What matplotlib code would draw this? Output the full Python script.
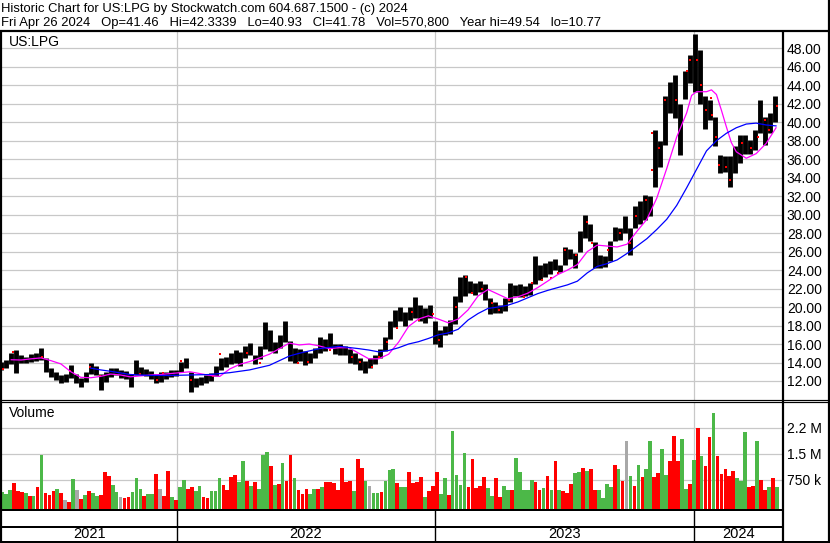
import matplotlib
matplotlib.use('Agg')
import matplotlib.pyplot as plt
import matplotlib.dates as mdates
from matplotlib.lines import Line2D
import numpy as np
import pandas as pd

plt.rcParams['font.family'] = ['Liberation Sans', 'DejaVu Sans']

# ---------------- data ----------------
title_line = "Historic Chart for US:LPG by Stockwatch.com 604.687.1500 - (c) 2024"
info_fields = ["Fri Apr 26 2024", "Op=41.46", "Hi=42.3339", "Lo=40.93", "Cl=41.78",
               "Vol=570,800", "Year hi=49.54", "lo=10.77"]
symbol = "US:LPG"
volume_title = "Volume"

week_high = [14.1, 14.3, 15.0, 15.4, 14.8, 14.6, 14.9, 15.0, 15.6, 14.5,
             13.4, 13.0, 12.6, 12.8, 13.7, 12.8, 12.3, 13.0, 14.0, 13.6,
             12.8, 13.0, 13.4, 13.4, 13.2, 13.1, 12.8, 14.3, 13.5, 13.3,
             13.1, 12.8, 13.0, 13.0, 13.2, 13.2, 14.1, 14.5, 13.0, 12.3,
             12.4, 12.7, 12.9, 13.6, 14.5, 14.6, 15.0, 15.4, 15.1, 15.8,
             16.1, 14.8, 15.8, 18.4, 17.5, 16.2, 17.0, 18.5, 16.3, 15.6,
             15.5, 15.2, 15.0, 15.6, 16.8, 16.5, 17.15, 16.0, 16.0, 15.8,
             15.5, 15.0, 14.5, 14.2, 14.5, 14.8, 15.5, 16.8, 18.5, 19.7,
             20.0, 19.5, 20.0, 21.1, 20.2, 19.9, 20.2, 18.5, 17.5, 18.0,
             18.6, 21.2, 23.2, 23.5, 22.8, 22.6, 22.8, 22.5, 21.0, 20.5,
             20.2, 21.0, 22.6, 22.4, 22.5, 22.3, 22.6, 25.5, 24.6, 24.8,
             25.0, 25.2, 24.5, 26.5, 26.3, 25.8, 28.2, 30.0, 29.0, 27.0,
             25.6, 25.5, 27.2, 28.7, 28.6, 29.8, 28.5, 30.9, 31.5, 32.1,
             32.0, 39.2, 38.0, 42.8, 44.4, 45.1, 42.0, 45.5, 47.3, 49.54,
             47.8, 42.8, 42.4, 40.6, 36.5, 36.3, 36.3, 37.4, 38.6, 38.6,
             38.1, 39.2, 42.4, 40.6, 41.0, 42.8]
week_low = [13.2, 13.4, 13.8, 12.9, 14.0, 13.9, 14.1, 14.2, 14.3, 13.0,
            12.4, 12.1, 11.8, 11.9, 12.3, 11.8, 11.4, 11.9, 12.8, 12.6,
            11.0, 11.9, 12.4, 12.6, 12.3, 12.2, 11.4, 12.6, 12.6, 12.5,
            12.2, 11.8, 11.9, 12.2, 12.4, 12.5, 13.0, 13.4, 10.8, 11.4,
            11.6, 11.8, 12.0, 12.5, 13.2, 13.5, 13.8, 14.0, 13.6, 14.5,
            14.8, 13.8, 14.4, 15.5, 15.2, 15.0, 15.6, 16.2, 14.2, 14.0,
            14.2, 13.7, 14.0, 14.5, 15.0, 15.2, 15.6, 14.9, 14.8, 14.8,
            14.0, 13.8, 13.2, 12.9, 13.4, 13.8, 14.5, 15.2, 16.5, 17.8,
            18.5, 18.0, 18.6, 18.8, 18.5, 18.3, 18.8, 16.0, 15.7, 17.0,
            17.1, 18.2, 20.5, 21.2, 21.5, 21.3, 21.6, 20.8, 19.3, 19.4,
            19.4, 19.6, 20.5, 21.2, 21.1, 21.2, 21.3, 22.5, 22.9, 23.3,
            23.6, 24.0, 23.8, 24.5, 25.2, 24.2, 26.0, 27.5, 27.2, 24.2,
            24.2, 24.3, 25.0, 27.1, 27.3, 28.0, 25.6, 28.5, 29.0, 29.4,
            29.8, 33.0, 35.2, 37.5, 41.0, 40.5, 36.4, 42.5, 44.2, 43.3,
            42.0, 39.3, 40.2, 37.4, 34.5, 34.6, 33.0, 34.5, 35.6, 36.6,
            36.6, 37.0, 38.8, 37.5, 38.8, 40.0]

# red tick marks: day offset from 2021-04-30 and price
red_mark_day = [1, 15, 56, 96, 124, 138, 194, 218, 227, 253, 267, 297, 307, 345, 363,
                417, 432, 462, 493, 504, 521, 532, 543, 557, 578, 588, 607, 616, 640,
                654, 663, 676, 690, 701, 715, 736, 747, 761, 774, 783, 794, 809, 825,
                832, 854, 871, 885, 894, 908, 916, 916, 926, 935, 950, 966, 970, 980,
                985, 992, 999, 1001, 1006, 1011, 1020, 1026, 1043, 1056, 1065, 1075,
                1081, 1092]
red_mark_price = [13.3, 15.1, 14.6, 13.1, 13.5, 12.5, 12.8, 12.1, 12.9, 14.2, 12.1, 12.5,
                  14.9, 15.0, 13.9, 13.9, 14.1, 15.35, 14.6, 14.1, 13.55, 14.6, 16.25, 17.7,
                  19.5, 18.6, 19.3, 16.4, 20.0, 23.3, 21.5, 22.0, 20.4, 19.7, 20.8, 21.1,
                  22.6, 22.9, 23.1, 23.65, 26.2, 25.6, 29.2, 26.9, 26.2, 28.0, 26.9, 29.8,
                  31.6, 38.8, 34.8, 37.2, 42.4, 42.4, 45.5, 46.7, 46.7, 44.0, 41.3, 42.6,
                  40.8, 38.4, 35.4, 35.2, 33.7, 37.7, 37.2, 38.4, 40.2, 39.2, 41.7]

ma_fast_week = [2, 4, 6, 8, 10, 12, 14, 16, 18, 20, 22, 24, 26, 28, 30, 32, 34, 36, 38, 40,
                42, 44, 46, 48, 50, 52, 54, 56, 58, 60, 62, 64, 66, 68, 70, 72, 74, 76, 78, 80,
                82, 84, 86, 88, 90, 92, 94, 96, 98, 100, 102, 104, 106, 108, 110, 112, 114, 116,
                118, 120, 122, 124, 126, 128, 130, 132, 134, 136, 138, 139, 140, 142, 143, 144,
                145, 146, 147, 148, 150, 152, 154, 156]
ma_fast = [14.3, 14.27, 14.4, 14.5, 14.2, 13.85, 13.0, 12.4, 12.35, 12.5, 12.75, 12.65, 12.45,
           12.55, 12.65, 12.7, 12.8, 12.9, 13.0, 12.8, 12.6, 12.5, 13.3, 13.8, 14.1, 14.5, 14.9,
           15.5, 16.1, 15.9, 16.0, 15.8, 15.5, 15.6, 15.6, 15.0, 14.4, 14.4, 14.9, 16.2, 17.9,
           18.7, 19.05, 18.7, 18.3, 18.7, 19.7, 21.2, 21.9, 21.4, 20.9, 21.1, 21.5, 22.1, 22.8,
           23.5, 24.0, 24.6, 26.0, 26.7, 26.6, 26.5, 26.8, 28.2, 29.5, 31.8, 35.0, 38.4, 41.0,
           42.9, 43.3, 43.3, 43.5, 43.0, 41.3, 39.5, 37.8, 36.8, 36.1, 36.6, 37.7, 39.4]

ma_slow_week = [18, 20, 22, 26, 30, 34, 38, 42, 46, 50, 54, 56, 58, 60, 64, 68, 72, 74, 76, 78,
                80, 82, 84, 86, 88, 90, 92, 94, 96, 98, 100, 102, 104, 106, 108, 110, 112, 114,
                116, 118, 120, 122, 124, 126, 128, 130, 132, 134, 136, 138, 140, 142, 144, 146,
                148, 150, 152, 154, 156]
ma_slow = [13.4, 13.2, 13.05, 12.7, 12.6, 12.6, 12.65, 12.7, 12.9, 13.2, 13.7, 14.2, 14.7, 15.0,
           15.5, 15.75, 15.5, 15.35, 15.15, 15.3, 15.6, 16.0, 16.25, 16.6, 17.0, 17.2, 17.6,
           18.6, 19.3, 19.85, 20.0, 20.2, 20.55, 21.0, 21.45, 21.8, 22.1, 22.4, 22.8, 23.7,
           24.4, 24.7, 25.1, 25.8, 26.6, 27.4, 28.4, 29.5, 31.0, 32.9, 34.9, 36.9, 38.0, 38.8,
           39.4, 39.8, 39.9, 39.7, 39.6]

volume_m = [0.40, 0.35, 0.47, 0.66, 0.42, 0.40, 0.36, 0.30, 0.28, 0.56,
            1.48, 0.37, 0.31, 0.43, 0.49, 0.37, 0.18, 0.10, 0.79, 0.45,
            0.20, 0.31, 0.43, 0.36, 0.30, 0.32, 0.97, 0.85, 0.61, 0.39,
            0.27, 0.22, 0.25, 0.39, 0.81, 0.50, 0.30, 0.33, 0.33, 0.93,
            0.50, 0.30, 1.00, 0.26, 0.18, 0.56, 0.76, 0.49, 0.55, 0.42,
            0.58, 0.25, 0.22, 0.43, 0.44, 0.81, 0.60, 0.46, 0.83, 0.89,
            0.69, 1.28, 0.72, 0.58, 0.68, 0.50, 1.48, 1.56, 1.14, 0.60,
            0.63, 1.24, 0.72, 1.48, 0.80, 0.46, 0.35, 0.50, 0.33, 0.50,
            0.50, 0.55, 0.70, 0.70, 0.65, 0.46, 1.09, 0.70, 0.72, 0.44,
            1.35, 1.09, 0.72, 0.58, 0.37, 0.37, 0.40, 0.72, 1.04,
            1.05, 0.66, 0.54, 0.54, 0.99, 0.66, 0.70, 0.83, 0.25, 0.42,
            0.58, 0.99, 0.35, 0.80, 0.32, 2.15, 0.90, 0.60, 1.53, 0.54,
            1.35, 0.51, 0.58, 0.83, 0.51, 0.29, 0.80, 0.27, 0.58, 0.45,
            0.47, 1.38, 0.99, 0.45, 0.45, 0.75, 0.70, 0.45, 0.51, 0.85,
            0.45, 1.29, 0.45, 0.42, 0.37, 0.62, 0.94, 0.99, 1.10,
            1.00, 1.06, 0.47, 0.45, 0.22, 0.63, 0.54, 1.17, 1.05, 0.72,
            1.86, 0.85, 0.58, 1.18, 0.83, 1.05, 1.86, 0.82, 0.94, 1.65,
            0.90, 1.30, 2.01, 1.28, 1.93, 0.50, 0.64, 1.31, 2.25, 1.43,
            1.14, 1.99, 2.67, 1.45, 0.92, 1.07, 0.85, 1.02, 0.80, 0.72,
            2.12, 0.54, 0.58, 1.86, 0.75, 0.47, 0.55, 0.80, 0.54]
# g = up day, r = down day, a = unchanged
volume_dir = ("gggrrrgrgr" "grrrgrarga" "rgrggrrrgg" "arrgggrggr" "arrgrggrrg"
              "grrgggrrrr" "ggrgrgggrg" "rgrrgrrrgg" "rgrrrrrrrg" "rrgaggrgg"
              "grggrrrrgr" "rrggrggggr" "rrrrggrrgg" "rgggggrrgr" "grgrrrggr"
              "grrggggrgr" "agrgrggrrg" "grrrggrgrg" "rrgrrrrrgg" "grrgrrgrg")
assert len(volume_dir) == len(volume_m)

price_ticks = list(range(12, 50, 2))
vol_ticks = [0.75, 1.5, 2.25]
vol_tick_labels = ["750 k", "1.5 M", "2.2 M"]
years = [2021, 2022, 2023, 2024]

# ---------------- layout helpers ----------------
W, H = 830, 543
fig = plt.figure(figsize=(W / 100, H / 100), dpi=100)
fig.patch.set_facecolor('white')


def rect(x0, y0, x1, y1):
    return [x0 / W, 1 - y1 / H, (x1 - x0) / W, (y1 - y0) / H]


def fline(xs, ys, lw_px, color='black'):
    fig.add_artist(Line2D([x / W for x in xs], [1 - y / H for y in ys], color=color,
                          lw=lw_px * 0.72, transform=fig.transFigure,
                          solid_capstyle='butt'))


GRID = '#C8C8C8'
GREEN = '#4CB848'
RED = '#FF0000'
GREYBAR = '#A8A8A8'

chart_start = pd.Timestamp('2021-04-30')
x_left = mdates.date2num(chart_start)
x_right = mdates.date2num(pd.Timestamp('2024-05-03 10:00'))
year_starts = [mdates.date2num(pd.Timestamp(f'{y}-01-01')) for y in years[1:]]

week_dates = mdates.date2num(pd.date_range('2021-04-28', '2024-04-24', periods=len(week_high)))
ma_origin = pd.Timestamp('2021-04-29')
fast_x = mdates.date2num(ma_origin + pd.to_timedelta(np.array(ma_fast_week) * 7, unit='D'))
slow_x = mdates.date2num(ma_origin + pd.to_timedelta(np.array(ma_slow_week) * 7, unit='D'))
red_x = mdates.date2num(chart_start + pd.to_timedelta(np.array(red_mark_day), unit='D'))
vol_dates = mdates.date2num(pd.date_range('2021-04-30', '2024-04-26', periods=len(volume_m)))

# ---------------- price panel ----------------
ax = fig.add_axes(rect(2, 32, 782, 400))
ax.set_xlim(x_left, x_right)
ax.set_ylim(9.944, 49.76)
ax.set_yticks(price_ticks)
ax.set_yticklabels([f"{v:.2f}" for v in price_ticks])
ax.yaxis.tick_right()
ax.tick_params(axis='y', length=0, pad=3.5, labelsize=10)
ax.set_xticks([])
for s in ax.spines.values():
    s.set_visible(False)
for p in price_ticks:
    ax.axhline(p, color=GRID, lw=0.9, zorder=0)
for xs in year_starts:
    ax.axvline(xs, color=GRID, lw=0.9, zorder=0)
ax.vlines(week_dates, week_low, week_high, color='black', lw=3.5, zorder=2)
ax.plot(red_x, red_mark_price, linestyle='none', marker='s', markersize=1.6,
        markeredgewidth=0, color=RED, zorder=3)
ax.plot(fast_x, ma_fast, color='#FF00FF', lw=0.9, zorder=4)
ax.plot(slow_x, ma_slow, color='#0000FF', lw=0.9, zorder=4)

# ---------------- volume panel ----------------
axv = fig.add_axes(rect(2, 402, 782, 509))
axv.set_xlim(x_left, x_right)
vbot = -0.087
axv.set_ylim(vbot, 2.99)
axv.set_yticks(vol_ticks)
axv.set_yticklabels(vol_tick_labels)
axv.yaxis.tick_right()
axv.tick_params(axis='y', length=0, pad=3.5, labelsize=10)
axv.set_xticks([])
for s in axv.spines.values():
    s.set_visible(False)
for v in vol_ticks:
    axv.axhline(v, color=GRID, lw=0.9, zorder=0)
for xs in year_starts:
    axv.axvline(xs, color=GRID, lw=0.9, zorder=0)
cmap = {'g': GREEN, 'r': RED, 'a': GREYBAR}
bar_colors = [cmap[c] for c in volume_dir]
axv.bar(vol_dates, np.array(volume_m) - vbot, bottom=vbot, width=5.2,
        color=bar_colors, linewidth=0, zorder=2)

# ---------------- date strip ----------------
axd = fig.add_axes(rect(2, 510, 782, 541))
axd.set_xlim(x_left, x_right)
axd.set_ylim(0, 1)
axd.axis('off')
for xs in year_starts:
    axd.axvline(xs, color='black', lw=1.0)
bounds = [x_left] + year_starts + [x_right]
for i, y in enumerate(years):
    axd.text((bounds[i] + bounds[i + 1]) / 2, (541 - 534.5) / 31, str(y),
             ha='center', va='center', fontsize=10.5)

# ---------------- texts ----------------
fig.text(1 / W, 1 - 9 / H, title_line, fontsize=9.4, ha='left', va='center')
fig.text(1 / W, 1 - 23 / H, "   ".join(info_fields), fontsize=9.4, ha='left', va='center')
fig.text(9 / W, 1 - 41.5 / H, symbol, fontsize=10, ha='left', va='center')
fig.text(9 / W, 1 - 413 / H, volume_title, fontsize=10, ha='left', va='center')

# ---------------- frame lines ----------------
fline([0, 830], [30.5, 30.5], 2.2)
fline([0, 830], [400.3, 400.3], 1.2)
fline([0, 830], [402.3, 402.3], 1.2)
fline([0, 782], [509.8, 509.8], 2.0)
fline([0, 782], [526.8, 526.8], 2.0)
fline([0, 830], [541.6, 541.6], 2.0)
fline([1.0, 1.0], [30, 543], 2.2)
fline([782.6, 782.6], [30, 543], 2.2)
fline([828.6, 828.6], [0, 543], 2.2)

fig.savefig('out.png', dpi=100, facecolor='white')
